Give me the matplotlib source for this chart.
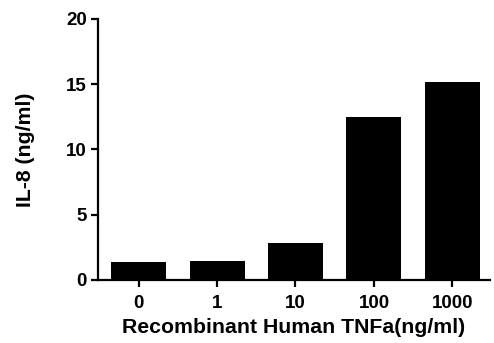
import matplotlib
matplotlib.use("Agg")
import matplotlib.pyplot as plt

categories = ["0", "1", "10", "100", "1000"]
values = [1.38, 1.42, 2.86, 12.5, 15.2]
yticks = [0, 5, 10, 15, 20]

plt.rcParams['font.family'] = ['Liberation Sans', 'DejaVu Sans']

fig = plt.figure(figsize=(4.94, 3.43), dpi=100)
ax = fig.add_axes([0.198, 0.1837, 0.794, 0.761])
x = range(len(categories))
ax.bar(x, values, width=0.70, color='black')
ax.set_xlim(-0.52, 4.48)
ax.set_ylim(0, 20)
ax.set_yticks(yticks)
ax.set_xticks(list(x))
ax.set_xticklabels(categories)
for s in ['top', 'right']:
    ax.spines[s].set_visible(False)
for s in ['left', 'bottom']:
    ax.spines[s].set_linewidth(1.6)
ax.tick_params(axis='both', width=1.6, length=5, labelsize=13.5, pad=3)
ax.tick_params(axis='x', pad=6)
for lab in ax.get_xticklabels() + ax.get_yticklabels():
    lab.set_fontweight('bold')
ax.set_xlabel("Recombinant Human TNFa(ng/ml)", fontsize=15.3, fontweight='bold', labelpad=4)
ax.set_ylabel("IL-8 (ng/ml)", fontsize=15.3, fontweight='bold', labelpad=22)
fig.savefig("out.png", dpi=100)
